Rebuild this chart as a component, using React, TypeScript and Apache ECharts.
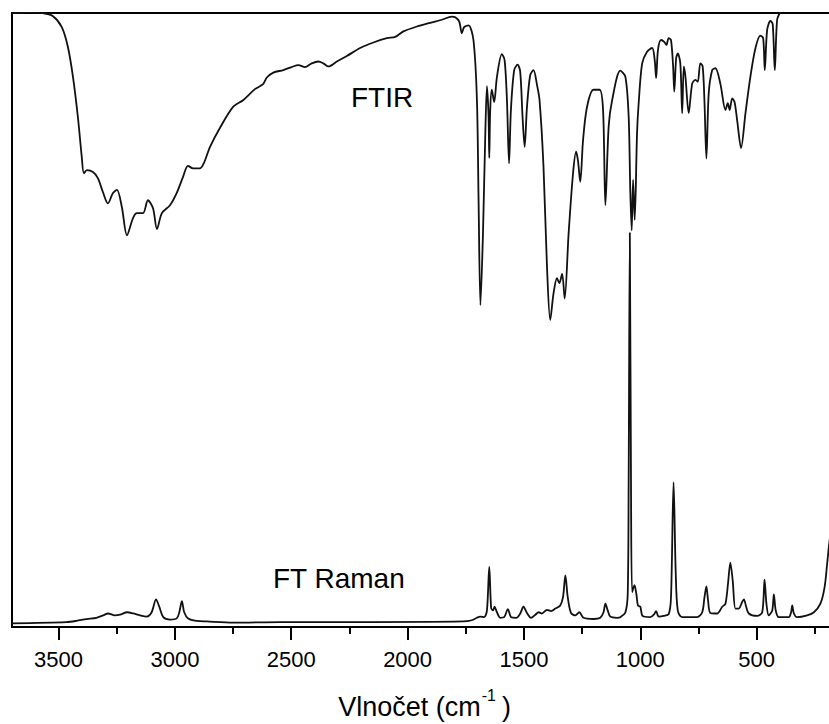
import React, { useEffect, useRef } from "react";
import * as echarts from "echarts";

// FTIR spectrum (wavenumber in cm-1, transmittance in arbitrary units)
const ftirWavenumber = [
  3700, 3620, 3568, 3525, 3486, 3460, 3438, 3417, 3400, 3391, 3378, 3352, 3331, 3309, 3288, 3266, 3249, 3228, 3206, 3180,
  3163, 3137, 3116, 3094, 3077, 3056, 3021, 2991, 2965, 2944, 2922, 2892, 2875, 2849, 2806, 2750, 2707, 2656, 2621, 2605,
  2577, 2534, 2498, 2469, 2441, 2412, 2383, 2362, 2340, 2304, 2261, 2204, 2147, 2089, 2053, 2018, 1960, 1903, 1853, 1810,
  1795, 1778, 1767, 1757, 1738, 1717, 1702, 1695, 1687, 1676, 1666, 1659, 1652, 1649, 1645, 1638, 1628, 1616, 1595, 1583,
  1573, 1564, 1556, 1542, 1527, 1516, 1506, 1497, 1487, 1473, 1459, 1444, 1433, 1416, 1401, 1387, 1373, 1358, 1348, 1336,
  1325, 1308, 1289, 1276, 1268, 1258, 1246, 1229, 1201, 1175, 1160, 1150, 1136, 1121, 1086, 1064, 1050, 1043, 1037, 1031,
  1024, 1014, 1007, 992, 971, 949, 938, 932, 924, 911, 897, 888, 878, 868, 859, 854, 846, 839, 828, 820,
  813, 806, 792, 777, 763, 753, 742, 732, 724, 716, 706, 691, 677, 656, 634, 624, 616, 605, 595, 584,
  567, 548, 527, 505, 484, 472, 465, 455, 441, 431, 422, 412, 398, 372,
];
const ftirValue = [
  100.0, 100.1, 100.0, 99.5, 97.7, 94.5, 89.6, 83.1, 76.5, 73.9, 74.4, 74.1, 73.1, 70.8, 69.0, 70.7, 71.2, 68.4, 63.8, 66.6,
  67.4, 67.4, 69.5, 68.2, 64.8, 67.4, 68.7, 70.8, 73.3, 75.1, 74.7, 74.7, 75.6, 78.2, 81.3, 84.7, 85.8, 87.6, 88.4, 89.5,
  90.3, 90.7, 91.2, 91.5, 91.2, 91.8, 92.1, 91.8, 91.3, 92.1, 93.0, 94.3, 95.2, 95.9, 96.1, 97.0, 97.8, 98.4, 98.9, 99.4,
  99.3, 98.6, 96.7, 97.7, 98.0, 95.6, 85.8, 69.5, 52.4, 64.2, 80.4, 88.1, 83.1, 76.4, 84.2, 87.5, 85.5, 89.6, 93.3, 92.3,
  85.8, 75.5, 84.2, 90.7, 91.6, 90.4, 83.1, 78.2, 84.7, 89.9, 90.7, 88.3, 85.8, 75.0, 58.7, 50.0, 54.3, 56.8, 56.0, 57.5,
  53.5, 64.1, 73.9, 77.4, 76.0, 72.5, 79.3, 84.7, 87.5, 87.5, 84.2, 68.7, 81.5, 85.8, 90.6, 89.6, 83.1, 71.0, 64.6, 72.8,
  66.3, 80.4, 85.3, 91.8, 93.7, 94.3, 92.3, 89.4, 94.0, 95.6, 95.3, 94.8, 95.9, 95.6, 91.3, 87.2, 92.6, 93.4, 91.8, 83.7,
  91.3, 89.6, 83.7, 88.5, 89.1, 88.8, 91.8, 91.3, 85.3, 76.3, 86.9, 90.7, 91.0, 88.5, 84.2, 85.3, 84.2, 86.1, 85.5, 82.6,
  78.0, 83.7, 89.6, 94.3, 96.3, 95.9, 90.7, 97.2, 98.7, 98.2, 90.7, 98.9, 100.2, 102.1,
];

// FT Raman spectrum (wavenumber in cm-1, intensity in arbitrary units)
const ramanWavenumber = [
  3700, 3466, 3423, 3380, 3337, 3308, 3287, 3258, 3236, 3205, 3179, 3150, 3121, 3100, 3081, 3067, 3050, 3021, 2992, 2981,
  2970, 2960, 2943, 2906, 2863, 2749, 2548, 2161, 1761, 1724, 1702, 1688, 1671, 1659, 1649, 1641, 1633, 1626, 1616, 1602,
  1585, 1569, 1555, 1533, 1516, 1502, 1487, 1470, 1451, 1437, 1423, 1401, 1383, 1365, 1344, 1332, 1322, 1312, 1298, 1279,
  1262, 1244, 1201, 1172, 1158, 1150, 1140, 1129, 1100, 1086, 1064, 1054, 1050, 1045, 1040, 1035, 1025, 1017, 1010, 1000,
  990, 957, 940, 932, 921, 900, 878, 868, 857, 848, 839, 820, 756, 734, 724, 716, 709, 699, 670, 648,
  634, 623, 613, 603, 591, 577, 562, 555, 545, 534, 498, 476, 466, 458, 448, 433, 426, 418, 405, 362,
  352, 347, 340, 326, 283, 254, 226, 208, 197, 187, 160,
];
const ramanValue = [
  0.6, 0.8, 1.0, 1.3, 1.5, 1.9, 2.2, 1.9, 2.0, 2.4, 2.2, 1.9, 1.7, 2.4, 4.5, 3.3, 1.6, 1.2, 1.4, 2.4,
  4.2, 2.4, 1.4, 1.0, 0.9, 0.7, 0.8, 0.8, 0.9, 1.1, 1.5, 1.7, 1.6, 2.7, 9.8, 3.1, 2.7, 3.3, 2.4, 1.5,
  1.6, 2.9, 1.6, 1.5, 2.2, 3.3, 2.3, 1.5, 2.0, 2.4, 2.2, 2.8, 2.6, 3.0, 3.5, 4.9, 8.4, 4.9, 2.3, 1.9,
  2.4, 1.5, 1.3, 1.5, 2.4, 3.8, 2.7, 1.7, 1.5, 1.6, 2.4, 5.4, 23.9, 64.2, 23.9, 5.7, 6.8, 5.4, 3.5, 3.3,
  1.8, 1.6, 2.1, 2.6, 1.7, 1.8, 2.1, 4.9, 23.6, 9.2, 2.7, 1.6, 1.6, 2.4, 4.9, 6.6, 4.4, 2.3, 2.2, 3.3,
  3.8, 7.1, 10.5, 7.6, 3.0, 3.0, 4.1, 4.5, 3.3, 2.2, 1.8, 2.4, 7.7, 3.8, 1.9, 2.7, 5.3, 2.7, 1.6, 1.6,
  2.4, 3.5, 2.2, 1.6, 1.9, 2.4, 3.8, 6.5, 10.3, 13.9, 20.6,
];

const majorTicks = [500, 1000, 1500, 2000, 2500, 3000, 3500];
const minorTicks = [250, 750, 1250, 1750, 2250, 2750, 3250];
const ftirLabel = "FTIR";
const ramanLabel = "FT Raman";
const axisTitleMain = "Vlnočet (cm";
const axisTitleSup = "-1";

const FONT = "'Liberation Sans', Arial, Helvetica, sans-serif";

export default function App() {
  const ref = useRef<HTMLDivElement>(null);

  useEffect(() => {
    if (!ref.current) return;
    const chart = echarts.init(ref.current, null, { renderer: "svg" });
    const gridBox = { left: 12, top: 13, bottom: 97, right: 0 };
    const xBase = { type: "value", min: 0, max: 3700, inverse: true, splitLine: { show: false } };
    const zip = (xs: number[], ys: number[]) => xs.map((x, i) => [x, ys[i]]);
    const lineStyle = { color: "#111", width: 1.8 };

    chart.setOption({
      animation: false,
      backgroundColor: "#fff",
      grid: [
        { ...gridBox, show: true, borderColor: "#000", borderWidth: 2, backgroundColor: "transparent" },
        { ...gridBox },
      ],
      xAxis: [
        {
          ...xBase,
          gridIndex: 0,
          position: "bottom",
          axisLine: { show: false },
          axisTick: { show: true, length: 13, customValues: majorTicks, lineStyle: { color: "#000", width: 2 } },
          axisLabel: {
            customValues: majorTicks,
            formatter: (v: number) => String(v),
            fontSize: 22,
            color: "#000",
            margin: 21,
            fontFamily: FONT,
          },
        },
        {
          ...xBase,
          gridIndex: 1,
          position: "bottom",
          axisLine: { show: false },
          axisTick: { show: true, length: 7, customValues: minorTicks, lineStyle: { color: "#000", width: 2 } },
          axisLabel: { show: false },
        },
      ],
      yAxis: [
        { gridIndex: 0, type: "value", min: 0, max: 100, show: false },
        { gridIndex: 1, type: "value", min: 0, max: 100, show: false },
      ],
      series: [
        {
          name: ftirLabel,
          type: "line",
          xAxisIndex: 0,
          yAxisIndex: 0,
          data: zip(ftirWavenumber, ftirValue),
          showSymbol: false,
          smooth: 0.3,
          lineStyle,
          clip: true,
        },
        {
          name: ramanLabel,
          type: "line",
          xAxisIndex: 0,
          yAxisIndex: 0,
          data: zip(ramanWavenumber, ramanValue),
          showSymbol: false,
          smooth: 0.3,
          lineStyle,
          clip: true,
        },
      ],
      graphic: [
        {
          type: "text",
          x: 351,
          y: 83,
          style: { text: ftirLabel, fontSize: 28, fontFamily: FONT, fill: "#000", align: "left", verticalAlign: "top" },
        },
        {
          type: "text",
          x: 273,
          y: 564.5,
          style: { text: ramanLabel, fontSize: 28, fontFamily: FONT, fill: "#000", align: "left", verticalAlign: "top" },
        },
        {
          type: "text",
          x: 424.5,
          y: 687,
          style: {
            text: `{a|${axisTitleMain}}{b|${axisTitleSup}}{c|)}`,
            align: "center",
            verticalAlign: "top",
            fill: "#000",
            rich: {
              a: { fontSize: 27, lineHeight: 40, fontFamily: FONT, fill: "#000" },
              b: { fontSize: 16, fontFamily: FONT, fill: "#000", verticalAlign: "top", padding: [0, 6, 0, 1] },
              c: { fontSize: 27, lineHeight: 40, fontFamily: FONT, fill: "#000" },
            },
          },
        },
      ],
    });

    return () => chart.dispose();
  }, []);

  return (
    <div
      style={{ position: "absolute", left: 0, top: 0, width: 829, height: 724, overflow: "hidden", background: "#fff" }}
    >
      <div ref={ref} style={{ width: 873, height: 724 }} />
    </div>
  );
}
